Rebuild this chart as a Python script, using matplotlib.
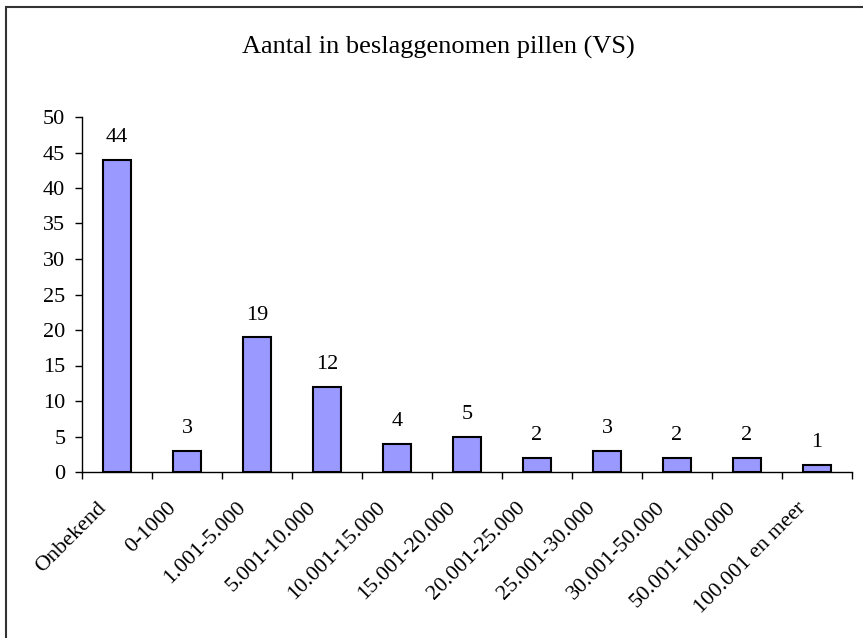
import matplotlib
matplotlib.use('Agg')
import matplotlib.pyplot as plt
import matplotlib.transforms as mtransforms
from matplotlib.patches import Rectangle

plt.rcParams['font.family'] = ['Liberation Serif', 'DejaVu Serif']

categories = ['Onbekend', '0-1000', '1.001-5.000', '5.001-10.000', '10.001-15.000',
              '15.001-20.000', '20.001-25.000', '25.001-30.000', '30.001-50.000',
              '50.001-100.000', '100.001 en meer']
counts = [44, 3, 19, 12, 4, 5, 2, 3, 2, 2, 1]
yticks = [0, 5, 10, 15, 20, 25, 30, 35, 40, 45, 50]

fig = plt.figure(figsize=(8.63, 6.38), dpi=100)
fig.patches.append(Rectangle((6 / 863, -0.1), 1.2, (638 - 7) / 638 + 0.1,
                             transform=fig.transFigure, fill=False,
                             edgecolor='#333333', linewidth=1.5))
ax = fig.add_axes([82 / 863, 1 - 472 / 638, 770 / 863, 355 / 638])

x = list(range(len(categories)))
ax.bar(x, counts, width=0.41, color='#9999FF', edgecolor='black', linewidth=1.5, zorder=3)
for xi, c in zip(x, counts):
    ax.annotate(str(c), (xi, c), xytext=(0, 9), textcoords='offset points',
                ha='center', va='bottom', fontsize=16)

ax.set_xlim(-0.5, len(categories) - 0.5)
ax.set_ylim(0, 50)
ax.set_yticks(yticks)
ax.tick_params(axis='y', labelsize=16, direction='out', length=5, width=1, pad=7)
ax.set_xticks([i - 0.5 for i in range(len(categories) + 1)])
ax.set_xticklabels([])
ax.tick_params(axis='x', direction='out', length=5, width=1)

# rotated category labels, right end just below each bar
offset = mtransforms.ScaledTranslation(-14 / 100, -33 / 100, fig.dpi_scale_trans)
for xi, lab in zip(x, categories):
    ax.text(xi, 0, lab, rotation=45, rotation_mode='anchor', ha='right', va='center',
            fontsize=16, transform=ax.get_xaxis_transform() + offset)

ax.spines['top'].set_visible(False)
ax.spines['right'].set_visible(False)
ax.spines['left'].set_linewidth(1)
ax.spines['bottom'].set_linewidth(1)

fig.text(438 / 863, 1 - 47 / 638, 'Aantal in beslaggenomen pillen (VS)',
         ha='center', va='center', fontsize=19)

fig.savefig('out.png', dpi=100)
